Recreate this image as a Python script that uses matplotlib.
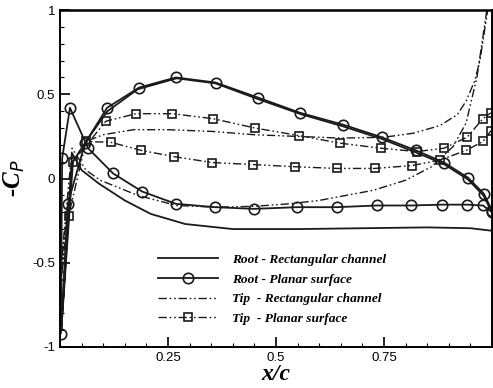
import numpy as np
import matplotlib.pyplot as plt
from matplotlib.ticker import MultipleLocator, FixedLocator

# Root - Rectangular channel (lower branch TE->LE, then upper LE->TE)
root_rect_x = [1.0, 0.95, 0.85, 0.7, 0.55, 0.4, 0.29, 0.21, 0.15, 0.09, 0.05, 0.028, 0.003,
               0.03, 0.06, 0.11, 0.18, 0.27, 0.36, 0.46, 0.56, 0.655, 0.745, 0.824, 0.889, 0.944, 0.98, 1.0]
root_rect_y = [-0.31, -0.295, -0.29, -0.295, -0.30, -0.30, -0.27, -0.21, -0.13, -0.03, 0.05, 0.15, -0.9,
               0.1, 0.22, 0.40, 0.53, 0.595, 0.565, 0.47, 0.38, 0.31, 0.235, 0.155, 0.085, -0.005, -0.1, -0.2]

# Root - Planar surface
root_plan_x = [1.0, 0.979, 0.942, 0.884, 0.812, 0.734, 0.641, 0.549, 0.449, 0.359, 0.268, 0.19, 0.123,
               0.065, 0.023, 0.005, 0.002, 0.018, 0.058, 0.109, 0.183, 0.268, 0.36, 0.459, 0.556, 0.655,
               0.745, 0.824, 0.889, 0.944, 0.981, 1.0]
root_plan_y = [-0.2, -0.16, -0.155, -0.155, -0.16, -0.16, -0.17, -0.17, -0.18, -0.17, -0.15, -0.077, 0.03,
               0.18, 0.42, 0.12, -0.92, -0.15, 0.21, 0.42, 0.54, 0.60, 0.57, 0.48, 0.39, 0.32,
               0.245, 0.167, 0.095, 0.006, -0.09, -0.19]

# Tip - Rectangular channel
tip_rect_x = [0.988, 0.965, 0.94, 0.91, 0.86, 0.8, 0.725, 0.6, 0.53, 0.45, 0.36, 0.27, 0.18, 0.093,
              0.06, 0.028, 0.003, 0.03, 0.06, 0.1, 0.17, 0.25, 0.35, 0.45, 0.55, 0.65, 0.75, 0.82,
              0.88, 0.92, 0.94, 0.96, 0.972, 0.99]
tip_rect_y = [1.0, 0.6, 0.33, 0.19, 0.07, -0.01, -0.07, -0.13, -0.15, -0.165, -0.17, -0.16, -0.1, -0.01,
              0.05, 0.18, -0.5, 0.1, 0.22, 0.26, 0.29, 0.29, 0.28, 0.26, 0.25, 0.24, 0.245, 0.27,
              0.315, 0.38, 0.46, 0.58, 0.70, 1.0]

# Tip - Planar surface
tip_plan_x = [0.998, 0.979, 0.94, 0.88, 0.815, 0.729, 0.641, 0.544, 0.447, 0.352, 0.264, 0.188, 0.118,
              0.06, 0.02, 0.003, 0.03, 0.106, 0.176, 0.26, 0.355, 0.451, 0.553, 0.648, 0.743, 0.826,
              0.889, 0.942, 0.979, 0.997]
tip_plan_y = [0.285, 0.22, 0.167, 0.11, 0.077, 0.06, 0.06, 0.07, 0.083, 0.095, 0.13, 0.167, 0.215,
              0.22, -0.22, -0.58, 0.1, 0.34, 0.385, 0.385, 0.355, 0.30, 0.255, 0.21, 0.18, 0.16,
              0.18, 0.245, 0.355, 0.39]

labels = ["Root - Rectangular channel", "Root - Planar surface",
          "Tip  - Rectangular channel", "Tip  - Planar surface"]

dashdotdot = (0, (6, 2, 1.2, 2, 1.2, 2))

fig = plt.figure(figsize=(4.93, 3.88), dpi=100)
ax = fig.add_axes([0.1217, 0.1057, 0.8763, 0.8683])

ax.plot(root_rect_x, root_rect_y, color="#1a1a1a", lw=1.3, label=labels[0])
ax.plot(root_plan_x, root_plan_y, color="#1a1a1a", lw=1.3, marker="o", ms=7.5,
        mfc="none", mec="#1a1a1a", mew=1.2, label=labels[1])
ax.plot(tip_rect_x, tip_rect_y, color="#1a1a1a", lw=1.0, ls=dashdotdot, label=labels[2])
ax.plot(tip_plan_x, tip_plan_y, color="#1a1a1a", lw=1.0, ls=dashdotdot, marker="s", ms=5.5,
        mfc="none", mec="#1a1a1a", mew=1.2, label=labels[3])

ax.set_xlim(0, 1)
ax.set_ylim(-1, 1)
ax.xaxis.set_major_locator(FixedLocator([0.25, 0.5, 0.75]))
ax.xaxis.set_minor_locator(MultipleLocator(0.05))
ax.yaxis.set_major_locator(MultipleLocator(0.5))
ax.yaxis.set_minor_locator(MultipleLocator(0.1))
ax.yaxis.set_major_formatter(plt.FuncFormatter(lambda v, p: "%g" % v))
ax.xaxis.set_major_formatter(plt.FuncFormatter(lambda v, p: "%g" % v))
ax.tick_params(which="both", direction="in", labelsize=9.5)
ax.tick_params(which="major", length=7, width=1.2)
ax.tick_params(which="minor", length=3, width=0.8)
for lab in ax.get_xticklabels() + ax.get_yticklabels():
    lab.set_family("Liberation Sans")
for s in ax.spines.values():
    s.set_linewidth(1.4)
ax.spines["top"].set_linewidth(1.8)

ax.set_xlabel("x/c", family="Liberation Serif", style="italic", weight="bold", fontsize=17, labelpad=0)
ax.set_ylabel("-C$_P$", family="Liberation Serif", style="italic", weight="bold", fontsize=18, labelpad=4)

leg = ax.legend(loc="lower left", bbox_to_anchor=(0.2, 0.03), frameon=False, handlelength=4.5,
                handletextpad=1.0, labelspacing=0.55,
                prop={"family": "Liberation Serif", "style": "italic", "weight": "bold", "size": 9.6})

fig.savefig("out.png", dpi=100)
